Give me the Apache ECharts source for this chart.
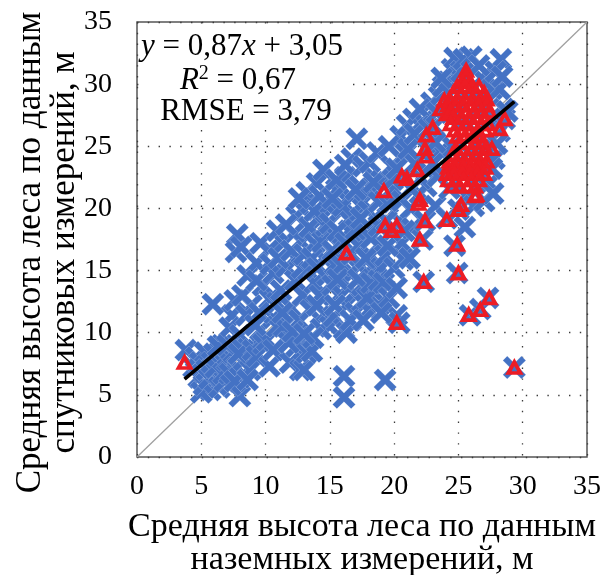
<!DOCTYPE html>
<html>
<head>
<meta charset="utf-8">
<script src="https://cdn.jsdelivr.net/npm/echarts@6/dist/echarts.min.js"></script>
<style>
html,body{margin:0;padding:0;background:#fff;}
#chart{width:607px;height:575px;}
</style>
</head>
<body>
<div id="chart"></div>
<script>
// ---- data ----
const AXIS_MIN = 0, AXIS_MAX = 35, AXIS_STEP = 5;
const X_TITLE = 'Средняя высота леса по данным\nназемных измерений, м';
const Y_TITLE = 'Средняя высота леса по данным\nспутниковых измерений, м';
const SLOPE = 0.87, INTERCEPT = 3.05, R2 = 0.67, RMSE = 3.79;
const REF_LINE = [[0, 0], [35, 35]];

// blue crosses: [ground height, satellite height]
const BLUE_POINTS = [
  [3.8,8.6],[4.4,7.2],[4.8,6.4],[4.6,8.0],[4.9,7.6],[5.3,8.4],[5.7,5.4],[5.0,5.2],
  [5.2,5.8],[5.4,7.0],[5.6,6.3],[5.8,7.6],[6.0,8.3],[6.2,6.8],[6.4,5.6],[6.5,7.4],[6.8,6.1],[6.9,8.6],[5.9,12.3],[6.6,9.0],[6.1,7.2],[6.7,6.7],[6.3,8.9],
  [7.0,7.8],[7.2,6.7],[7.4,11.4],[7.2,10.4],[7.5,8.4],[7.8,7.2],[8.0,4.9],[8.0,6.4],[8.0,9.8],[8.3,7.8],[8.6,8.7],[8.8,7.0],[7.3,5.8],[7.0,9.0],[7.6,6.1],[8.2,8.6],[7.9,8.3],[8.6,6.2],[9.0,8.6],
  [7.8,17.9],[7.7,16.5],[8.1,16.9],[8.6,14.6],[8.9,12.2],[7.6,12.6],[8.5,11.4],[8.2,13.0],
  [9.3,8.1],[9.3,15.6],[9.6,10.2],[9.8,9.1],[9.8,13.8],[10.1,9.4],[10.3,7.3],[10.3,12.7],[10.3,16.7],[10.6,11.2],[10.9,12.4],[10.9,10.5],[10.6,14.8],[9.5,11.6],[9.2,10.6],[9.3,14.2],[10.6,8.6],[10.4,15.5],[9.6,17.2],
  [11.4,10.5],[11.4,17.2],[11.2,13.4],[11.6,15.3],[11.9,7.6],[12.0,12.0],[12.3,14.2],[12.4,8.9],[12.4,15.9],[12.4,19.4],[12.7,7.0],[12.6,11.0],[12.9,13.0],[12.8,17.3],[11.8,9.2],[12.2,18.0],[12.9,19.9],[11.0,16.0],[10.9,18.2],[12.0,16.6],[11.3,11.6],[12.1,10.1],[11.6,18.7],[12.8,15.2],
  [13.0,7.0],[13.2,8.4],[13.2,21.3],[13.5,20.4],[13.3,15.0],[13.6,8.5],[13.5,11.8],[13.8,14.0],[13.8,17.2],[14.0,22.0],[14.2,13.0],[14.2,19.0],[14.5,23.1],[14.5,16.0],[14.6,11.5],[14.8,20.2],[14.8,14.6],[15.0,10.5],[14.9,17.8],[13.4,18.5],[14.0,12.2],[13.0,16.3],[13.6,16.0],[14.0,15.2],[14.4,17.3],[14.7,18.6],[14.3,10.3],[13.7,9.6],[13.0,9.9],[13.8,19.8],[12.6,20.8],[14.2,21.0],
  [15.0,18.8],[15.3,11.3],[15.5,21.5],[15.4,15.5],[15.7,13.0],[15.8,17.0],[15.8,19.8],[16.0,14.2],[16.1,10.3],[16.1,6.5],[16.1,4.8],[16.3,10.0],[16.3,12.2],[16.4,16.0],[16.5,18.2],[16.6,21.0],[16.8,14.8],[16.9,13.2],[17.0,11.6],[17.0,19.5],[16.2,22.5],[15.5,22.3],[17.1,25.6],[16.7,24.0],[15.2,13.8],[16.0,20.2],
  [15.2,16.6],[15.6,18.2],[15.9,15.4],[16.2,17.2],[16.7,16.3],[16.5,13.6],[15.4,12.2],[15.6,14.3],[16.6,11.0],[15.2,20.8],[16.2,23.5],
  [17.2,17.0],[17.3,15.5],[17.5,12.5],[17.5,13.8],[17.6,20.5],[17.6,23.4],[17.8,18.2],[17.8,14.8],[18.0,11.8],[18.1,23.7],[18.2,16.2],[18.3,21.5],[18.5,13.2],[18.5,19.2],[18.6,15.0],[18.8,12.2],[18.9,17.2],[19.0,22.2],[18.7,24.5],[17.3,21.8],[18.0,19.8],[17.9,12.8],[18.4,22.1],
  [17.0,18.3],[17.4,19.2],[17.8,16.0],[18.2,17.6],[18.8,18.6],[19.0,15.2],[17.2,14.3],[18.2,14.0],[18.8,14.2],[17.6,11.0],[18.8,20.5],[17.0,21.5],
  [19.2,14.0],[19.3,6.2],[19.3,16.2],[19.5,20.4],[19.6,12.8],[19.7,18.0],[19.8,23.4],[20.0,15.2],[20.0,21.5],[20.2,11.4],[20.4,19.0],[20.5,25.8],[20.6,17.2],[20.7,15.9],[20.8,22.6],[20.9,24.4],[21.0,26.7],[20.2,13.6],[19.6,25.0],[20.4,10.8],[19.0,11.6],[19.5,17.0],[19.4,19.0],[19.9,22.3],[20.2,23.2],[20.6,20.6],
  [21.3,20.0],[21.5,27.2],[21.4,18.4],[21.6,23.6],[21.8,25.5],[22.0,21.2],[22.2,17.5],[22.3,14.1],[22.2,27.0],[22.4,19.0],[22.6,23.0],[22.8,25.0],[22.9,28.5],[22.5,21.8],[21.2,16.0],[21.1,24.8],[21.6,26.0],[22.1,22.4],[22.7,26.4],[22.0,28.0],[21.3,21.6],[20.8,18.2],
  [23.1,26.6],[23.2,20.2],[23.4,22.6],[23.5,29.0],[23.6,24.6],[24.0,27.5],[24.1,19.2],[24.2,30.2],[24.3,21.6],[24.5,25.0],[24.7,17.0],[24.9,14.8],[24.8,28.5],[24.6,23.0],[25.0,19.9],[24.5,31.2],[23.8,29.8],[23.3,27.7],[23.2,25.3],[23.0,23.6],[23.7,30.5],[24.7,32.1],
  [25.2,31.0],[25.4,32.0],[25.5,27.0],[25.6,21.0],[25.8,24.5],[25.9,11.4],[26.0,29.5],[26.2,20.2],[26.4,26.0],[26.5,22.5],[26.7,11.9],[26.8,30.5],[26.9,28.0],[26.0,32.2],[26.6,31.5],[25.5,18.5],[25.2,23.0],
  [27.2,25.2],[27.3,12.8],[27.4,22.0],[27.6,29.6],[27.8,24.0],[27.9,27.0],[28.2,29.6],[28.3,32.0],[28.5,28.0],[28.2,26.2],[28.6,27.2],[27.9,31.0],[29.35,7.2],[27.6,23.2],[27.0,20.6],[28.0,25.2],[28.4,30.6],[27.7,21.2],[28.8,27.8]
];

// red triangles: [ground height, satellite height]
const RED_POINTS = [
  [3.7,7.6],[16.3,16.4],[19.2,21.4],[19.3,18.6],[19.8,18.2],[20.2,18.6],[20.2,10.8],[22.3,14.1],[22.0,17.5],[22.4,19.0],
  [24.1,19.1],[24.9,17.1],[25.0,14.8],[25.8,11.45],[26.7,11.85],[27.4,12.8],[29.35,7.2],[25.0,19.9],[25.2,20.3],[26.4,21.1],
  [22.0,20.7],[21.9,20.4],[20.6,22.6],[21.0,22.4],[21.8,23.1],[22.5,24.2],[22.4,24.8],[22.5,25.9],[23.6,28.0],[23.9,28.7],
  [24.1,27.6],[25.6,31.1],[28.2,26.4],[28.6,27.2],[27.6,24.8],[23.0,26.5],[26.3,21.0],
  [25.6,30.6],[25.3,30.2],[25.9,30.2],
  [24.9,29.8],[25.5,29.8],[26.1,29.8],[26.6,29.8],
  [24.6,29.3],[25.2,29.3],[25.8,29.3],[26.4,29.3],[27.0,29.3],
  [24.3,28.8],[24.9,28.8],[25.5,28.8],[26.1,28.8],[26.7,28.8],[27.2,28.8],
  [24.2,28.3],[24.8,28.3],[25.4,28.3],[26.0,28.3],[26.6,28.3],[27.2,28.3],
  [24.4,27.8],[25.0,27.8],[25.6,27.8],[26.2,27.8],[26.8,27.8],[27.4,27.8],
  [24.6,27.3],[25.2,27.3],[25.8,27.3],[26.4,27.3],[27.0,27.3],
  [24.4,26.8],[25.0,26.8],[25.6,26.8],[26.2,26.8],[26.8,26.8],[27.3,26.8],
  [24.7,26.3],[25.3,26.3],[25.9,26.3],[26.5,26.3],[27.1,26.3],
  [24.9,25.8],[25.5,25.8],[26.1,25.8],[26.7,25.8],
  [25.1,25.3],[25.7,25.3],[26.3,25.3],[26.9,25.3],
  [24.8,24.8],[25.4,24.8],[26.0,24.8],[26.6,24.8],[27.1,24.8],
  [24.5,24.3],[25.1,24.3],[25.7,24.3],[26.3,24.3],[26.9,24.3],
  [24.3,23.8],[24.9,23.8],[25.5,23.8],[26.1,23.8],[26.7,23.8],[27.2,23.8],
  [24.2,23.3],[24.8,23.3],[25.4,23.3],[26.0,23.3],[26.6,23.3],[27.1,23.3],
  [24.1,22.8],[24.7,22.8],[25.3,22.8],[25.9,22.8],[26.5,22.8],[27.0,22.8],
  [24.2,22.3],[24.8,22.3],[25.4,22.3],[26.0,22.3],[26.6,22.3],
  [24.5,21.8],[25.1,21.8],[25.7,21.8],[26.3,21.8]
];

// ---- chart ----
const fmt = v => v.toFixed(2).replace('.', ',');
const allX = BLUE_POINTS.concat(RED_POINTS).map(p => p[0]);
const xLo = Math.min.apply(null, allX), xHi = Math.max.apply(null, allX);
const TREND = [[xLo, SLOPE * xLo + INTERCEPT], [xHi, SLOPE * xHi + INTERCEPT]];

const SERIF = '"Liberation Serif", "Times New Roman", serif';
const CROSS = 'path://M0,19L19,0L50,31L81,0L100,19L69,50L100,81L81,100L50,69L19,100L0,81L31,50Z';

const chart = echarts.init(document.getElementById('chart'), null, {renderer: 'canvas'});
const axisCommon = {
  type: 'value', min: AXIS_MIN, max: AXIS_MAX, interval: AXIS_STEP,
  axisLine: {show: false}, axisTick: {show: false},
  splitLine: {show: true, lineStyle: {color: '#3a3a3a', width: 1.3, type: [1.4, 9.4]}},
  nameLocation: 'middle', nameMoveOverlap: false
};
function eqText(x, y, text) {
  return {type: 'text', x: x, y: y, z: 51,
    style: {text: text, font: '31px ' + SERIF, fill: '#000',
      align: 'center', textAlign: 'center', verticalAlign: 'middle', textVerticalAlign: 'middle',
      rich: {
        i: {fontFamily: SERIF, fontSize: 31, fontStyle: 'italic'},
        sup: {fontFamily: SERIF, fontSize: 20, padding: [0, 0, 14, 0]}
      }}};
}
chart.setOption({
  animation: false,
  backgroundColor: '#fff',
  grid: {left: 137, right: 20, top: 22, bottom: 118, show: true, borderColor: '#555', borderWidth: 1.5,
         backgroundColor: 'transparent', containLabel: false, outerBoundsMode: 'none'},
  xAxis: Object.assign({}, axisCommon, {
    name: X_TITLE, nameGap: 54,
    nameTextStyle: {fontFamily: SERIF, fontSize: 34, lineHeight: 33, color: '#000'},
    axisLabel: {fontFamily: SERIF, fontSize: 28, color: '#000', margin: 16}
  }),
  yAxis: Object.assign({}, axisCommon, {
    name: Y_TITLE, nameGap: 55, nameRotate: 90,
    nameTextStyle: {fontFamily: SERIF, fontSize: 35, lineHeight: 34, color: '#000', padding: [0, 26, 0, 0]},
    axisLabel: {fontFamily: SERIF, fontSize: 28, color: '#000', margin: 25}
  }),
  graphic: [
    {type: 'rect', left: 139, top: 24, z: 50, shape: {width: 212, height: 100}, style: {fill: '#fff'}},
    eqText(242, 47, '{i|y} = ' + fmt(SLOPE) + '{i|x} + ' + fmt(INTERCEPT)),
    eqText(238, 81, '{i|R}{sup|2} = ' + fmt(R2)),
    eqText(246, 112, 'RMSE = ' + fmt(RMSE))
  ],
  series: [
    {type: 'line', name: 'ref', data: REF_LINE, showSymbol: false, symbol: 'none', z: 1,
     lineStyle: {color: '#a0a0a0', width: 1.3}, emphasis: {disabled: true}},
    {type: 'scatter', name: 'blue', data: BLUE_POINTS, symbol: CROSS, symbolSize: 23, z: 2,
     itemStyle: {color: '#4472C4', borderColor: 'rgba(255,255,255,0.35)', borderWidth: 0.6, opacity: 1},
     emphasis: {disabled: true}},
    {type: 'scatter', name: 'red', data: RED_POINTS, symbol: 'triangle', symbolSize: [12, 11], z: 4,
     itemStyle: {color: 'rgba(255,255,255,0)', borderColor: '#ED1C24', borderWidth: 3.8, opacity: 1},
     emphasis: {disabled: true}},
    {type: 'line', name: 'trend', data: TREND, showSymbol: false, symbol: 'none', z: 5,
     lineStyle: {color: '#000', width: 3.6}, emphasis: {disabled: true}}
  ]
});
</script>
</body>
</html>
